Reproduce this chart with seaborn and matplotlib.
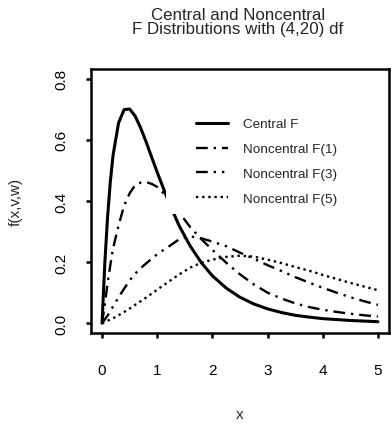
import matplotlib
matplotlib.use('Agg')
import matplotlib.pyplot as plt
import seaborn as sns
from matplotlib.patches import Rectangle

# values
x = [0, 0.05, 0.1, 0.15, 0.2, 0.3, 0.4, 0.5, 0.6, 0.7, 0.8, 0.9, 1.0, 1.2, 1.4,
     1.6, 1.8, 2.0, 2.25, 2.5, 2.75, 3.0, 3.25, 3.5, 3.75, 4.0, 4.25, 4.5, 4.75, 5.0]
central_f = [0, 0.195, 0.347, 0.463, 0.550, 0.656, 0.699, 0.701, 0.678, 0.639, 0.593,
             0.543, 0.494, 0.400, 0.318, 0.252, 0.198, 0.155, 0.115, 0.085, 0.063,
             0.047, 0.035, 0.026, 0.020, 0.015, 0.012, 0.009, 0.007, 0.005]
noncentral_f1 = [0, 0.06, 0.13, 0.19, 0.245, 0.32, 0.385, 0.425, 0.452, 0.46, 0.462,
                 0.456, 0.446, 0.41, 0.362, 0.314, 0.275, 0.24, 0.198, 0.16, 0.127,
                 0.1, 0.081, 0.065, 0.053, 0.044, 0.037, 0.031, 0.026, 0.022]
noncentral_f3 = [0, 0.012, 0.025, 0.04, 0.055, 0.085, 0.113, 0.14, 0.162, 0.18, 0.196,
                 0.211, 0.226, 0.25, 0.275, 0.284, 0.278, 0.267, 0.252, 0.231, 0.211,
                 0.19, 0.171, 0.151, 0.133, 0.116, 0.1, 0.085, 0.072, 0.06]
noncentral_f5 = [0, 0.004, 0.008, 0.012, 0.016, 0.026, 0.037, 0.048, 0.06, 0.072, 0.084,
                 0.097, 0.11, 0.135, 0.16, 0.182, 0.198, 0.208, 0.217, 0.221, 0.218,
                 0.208, 0.197, 0.184, 0.172, 0.158, 0.145, 0.132, 0.12, 0.108]
labels = ['Central F', 'Noncentral F(1)', 'Noncentral F(3)', 'Noncentral F(5)']
x_ticks = [0, 1, 2, 3, 4, 5]
y_ticks = [0.0, 0.2, 0.4, 0.6, 0.8]

sns.set_style('white')
plt.rcParams['font.family'] = ['Liberation Sans', 'DejaVu Sans']

fig = plt.figure(figsize=(3.91, 4.27), dpi=100)
ax = fig.add_axes([91 / 391, 1 - 334 / 427, 298 / 391, 264 / 427])

line_styles = ['-', (0, (5, 2.5, 1, 2.5)), (0, (5, 2.5, 1, 2.5, 1, 2.5)), (0, (1, 1.6))]
line_widths = [2.2, 1.7, 1.7, 1.7]
for ys, lab, ls, lw in zip([central_f, noncentral_f1, noncentral_f3, noncentral_f5],
                           labels, line_styles, line_widths):
    sns.lineplot(x=x, y=ys, ax=ax, color='black', linestyle=ls, linewidth=lw, label=lab)

# white legend background that hides the curves, like R's legend box
ax.add_patch(Rectangle((0.252, 0.451), 0.62, 0.42, transform=ax.transAxes,
                       facecolor='white', edgecolor='none', zorder=3))
ax.legend(loc='upper left', bbox_to_anchor=(0.352, 0.815), frameon=False, fontsize=9.7,
          handlelength=2.4, handletextpad=1.1, labelspacing=0.93, borderpad=0,
          borderaxespad=0)

ax.set_xlim(-0.2, 5.2)
ax.set_ylim(-0.032, 0.832)
ax.set_xticks(x_ticks)
ax.set_xticklabels([str(t) for t in x_ticks])
ax.set_yticks(y_ticks)
ax.set_yticklabels(['%.1f' % t for t in y_ticks])
plt.setp(ax.get_yticklabels(), rotation=90, va='center')
ax.tick_params(direction='out', length=3.6, width=1.8, labelsize=11, colors='black',
               left=True, bottom=True)
ax.tick_params(axis='x', pad=18)
ax.tick_params(axis='y', pad=13)
for sp in ax.spines.values():
    sp.set_linewidth(1.8)
    sp.set_color('black')

ax.set_xlabel('x', fontsize=11)
ax.set_ylabel('f(x,v,w)', fontsize=11)
ax.xaxis.set_label_coords(0.5, (334 - 415) / 264)
ax.xaxis.label.set_va('center')
ax.yaxis.set_label_coords((16 - 91) / 298, 0.5)
ax.yaxis.label.set_va('center')

fig.text(238 / 391, 1 - 20.5 / 427, 'Central and Noncentral', ha='center',
         va='baseline', fontsize=12.2)
fig.text(238 / 391, 1 - 34 / 427, 'F Distributions with (4,20) df', ha='center',
         va='baseline', fontsize=12.2)

fig.savefig('out.png', dpi=100)
plt.close(fig)
